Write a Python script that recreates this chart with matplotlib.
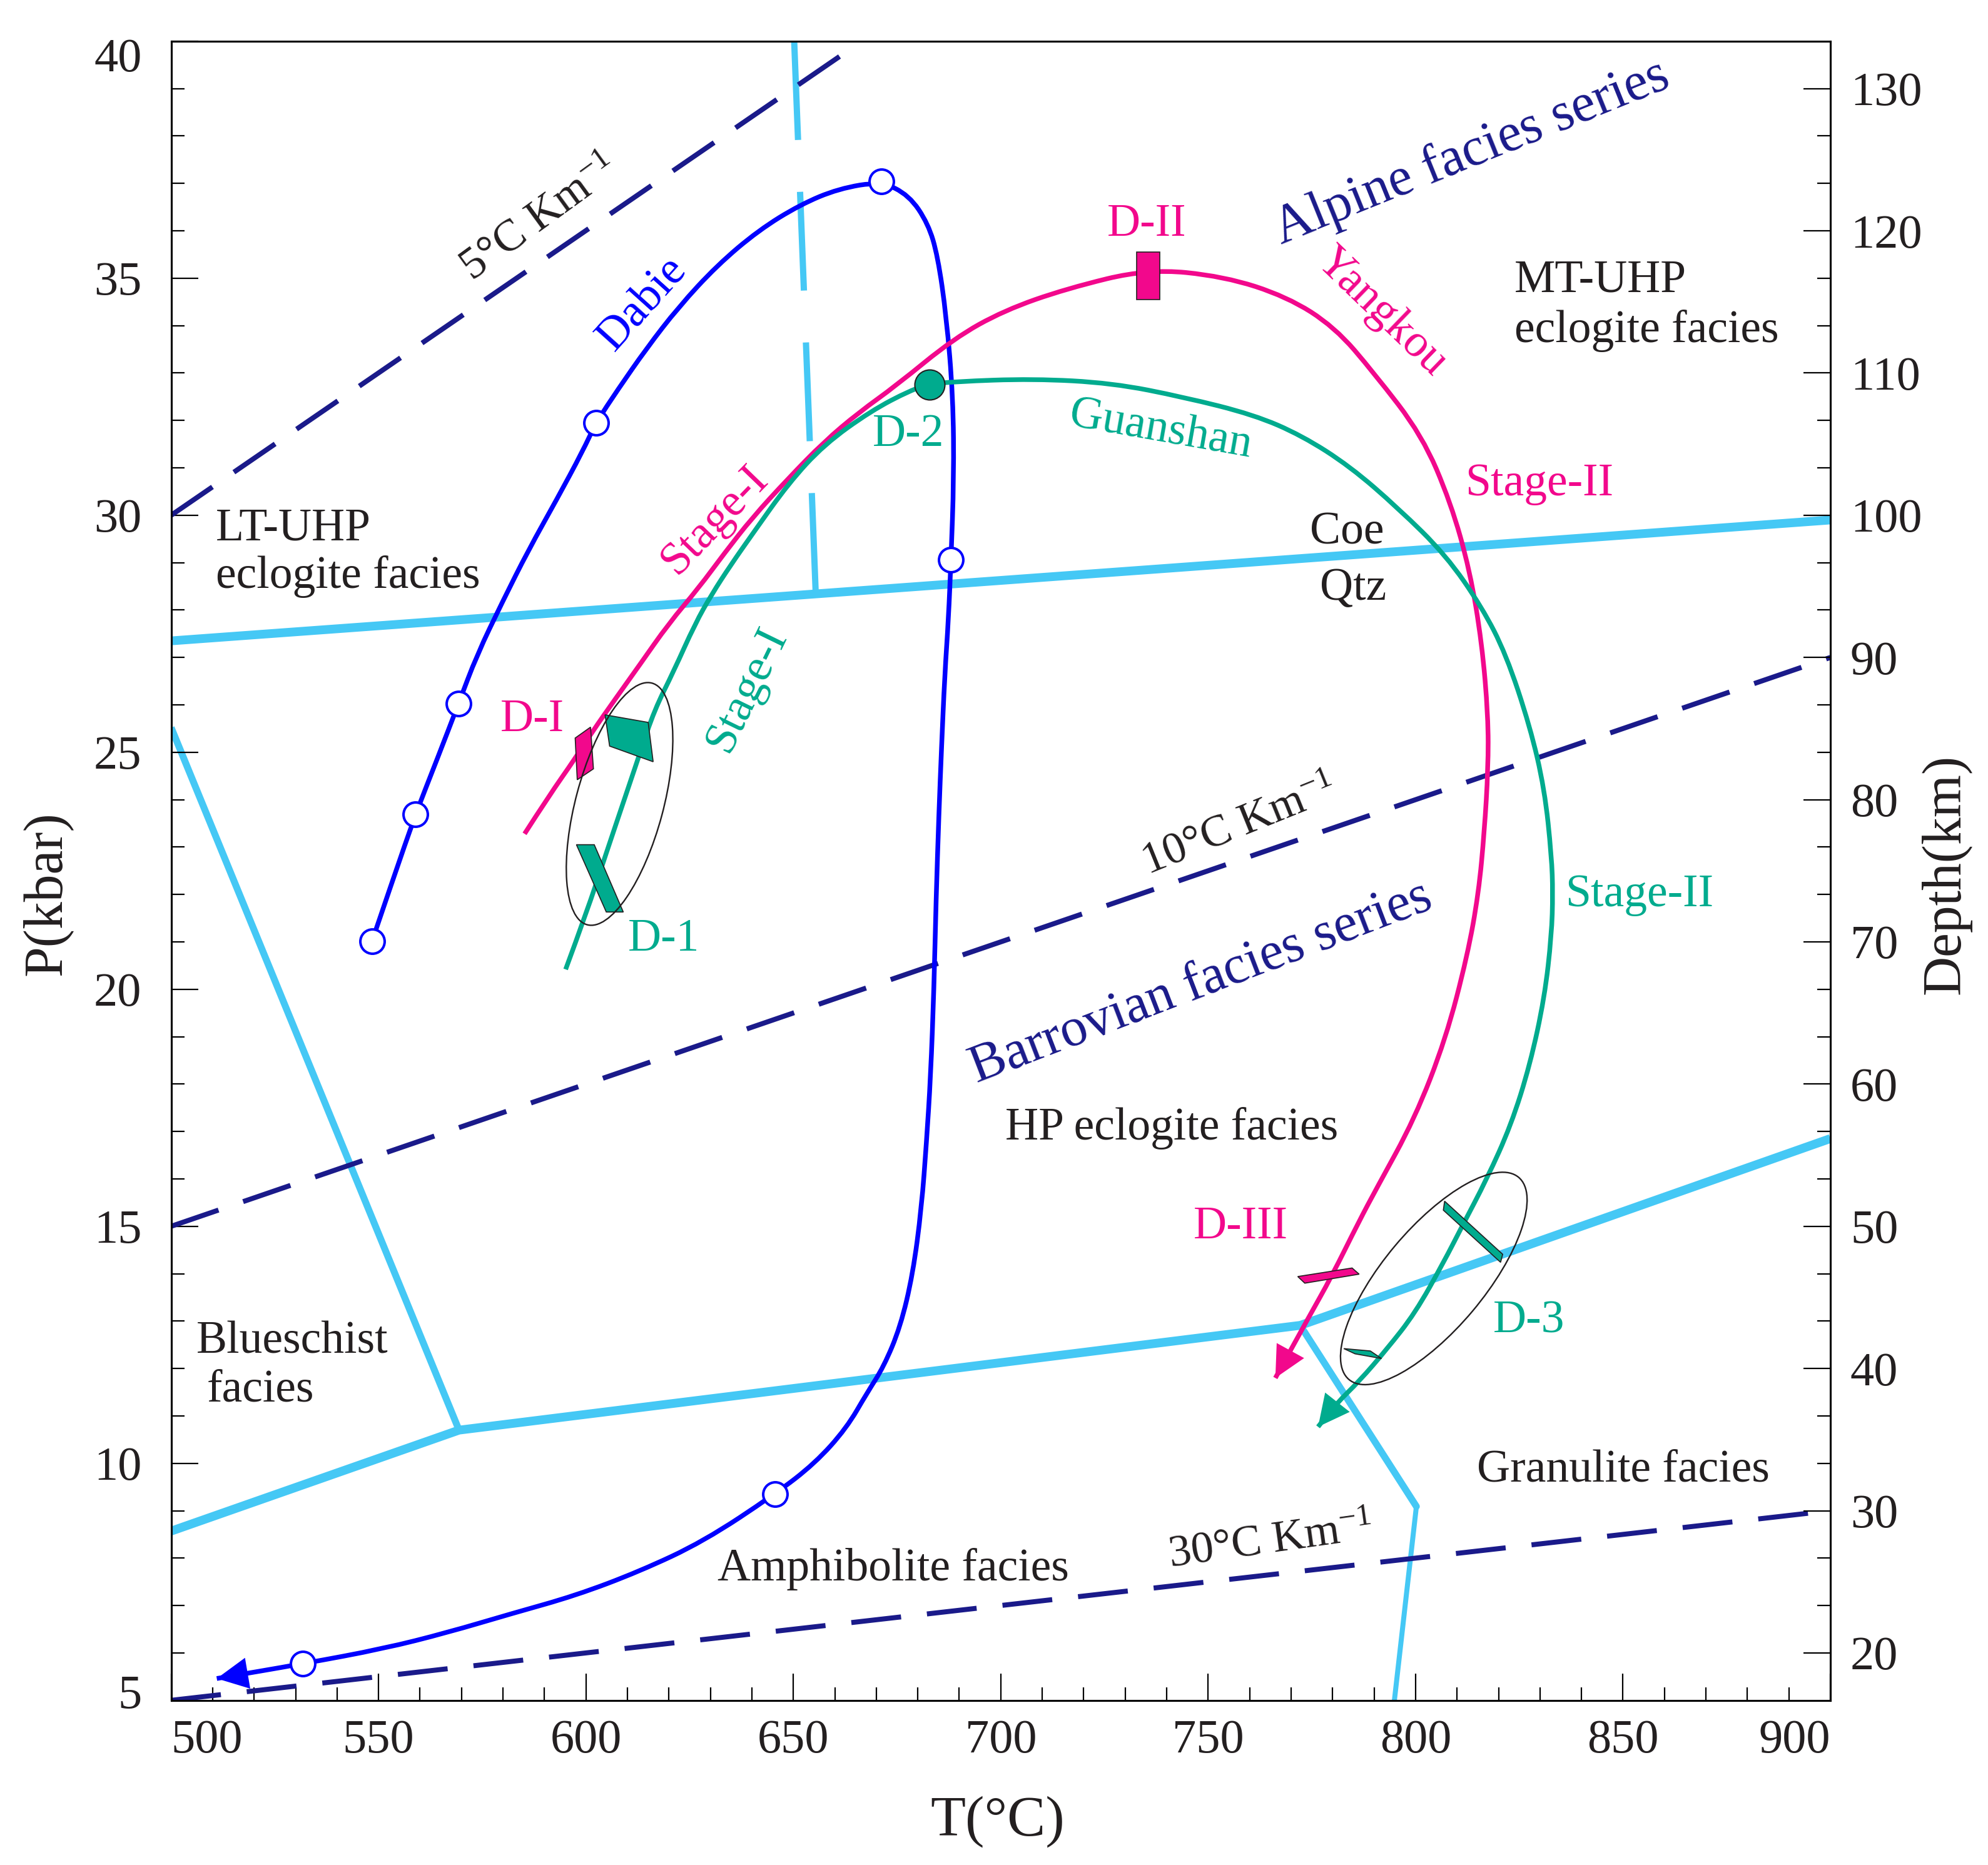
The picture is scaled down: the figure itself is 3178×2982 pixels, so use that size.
import matplotlib
matplotlib.use("Agg")
import matplotlib.pyplot as plt
from matplotlib.patches import Polygon, Rectangle, Ellipse, PathPatch
from matplotlib.path import Path
from matplotlib import transforms
from matplotlib.ticker import MultipleLocator, FixedLocator

plt.rcParams['font.family'] = ['Liberation Serif', 'DejaVu Serif']
plt.rcParams['mathtext.fontset'] = 'custom'
plt.rcParams['mathtext.rm'] = 'Liberation Serif'
plt.rcParams['mathtext.it'] = 'Liberation Serif:italic'

CYAN = '#45c8f5'
NAVY = '#1a1a8a'
BLUE = '#0000ff'
PINK = '#f2088c'
TEAL = '#00ab8e'
INK = '#231f20'
PX = 72 / 100  # one pixel in points (dpi 100)

# ---- axis ticks ----
t_ticks = [500, 550, 600, 650, 700, 750, 800, 850, 900]
p_ticks = [5, 10, 15, 20, 25, 30, 35, 40]
depth_ticks = [20, 30, 40, 50, 60, 70, 80, 90, 100, 110, 120, 130]

# ---- facies boundaries (T degC, P kbar) ----
coe_T = [500, 900]
coe_P = [27.35, 29.9]
dash_T = [650.2, 655.4]
dash_P = [40.0, 28.33]
blues_T = [500, 569.4]
blues_P = [25.52, 10.70]
lower_T = [500, 569.4, 772.2, 900]
lower_P = [8.57, 10.70, 12.91, 16.85]
gran1_T = [772.2, 800.2]
gran1_P = [12.91, 9.09]
gran2_T = [800.2, 794.9]
gran2_P = [9.09, 5.0]

# ---- geotherms ----
g5_T = [500, 664]
g5_P = [30, 39.85]
g10_T = [500, 900]
g10_P = [15, 27]
g30_T = [500, 900]
g30_P = [5, 9]

# ---- P-T paths ----
dabie_T = [548.4, 553.6, 558.9, 564.1, 569.3, 573.7, 579.9, 586.1, 593.0, 599.2,
           602.4, 607.6, 614.6, 622.3, 631.6, 641.6, 651.6, 660.9, 671.2, 677.9,
           682.5, 684.8, 686.9, 688.5, 688.7, 688.0, 687.4, 686.5, 685.7, 685.1,
           684.4, 683.9, 683.1, 682.1, 680.9, 678.8, 675.8, 671.8, 667.8, 662.8,
           655.2, 645.6, 628.3, 612.9, 597.5, 582.1, 566.6, 551.2, 531.7, 511.0]
dabie_P = [21.01, 22.35, 23.69, 24.85, 26.03, 27.05, 28.18, 29.26, 30.34, 31.35,
           31.95, 32.64, 33.52, 34.39, 35.27, 36.01, 36.55, 36.89, 37.04, 36.75,
           36.15, 35.47, 34.19, 32.50, 30.78, 29.06, 27.82, 26.64, 25.06, 23.74,
           21.88, 20.03, 18.17, 16.78, 15.39, 13.99, 12.88, 12.04, 11.49, 10.74,
           10.00, 9.35, 8.35, 7.72, 7.21, 6.83, 6.43, 6.09, 5.77, 5.46]
dabie_pts_T = [548.4, 558.9, 569.3, 602.4, 671.2, 688.0, 645.6, 531.7]
dabie_pts_P = [21.01, 23.69, 26.03, 31.95, 37.04, 29.06, 9.35, 5.77]

yk_T = [585.2, 591.0, 597.4, 601.5, 607.2, 613.0, 619.9, 627.2, 633.3, 640.1,
        648.7, 657.4, 665.8, 674.7, 688.7, 700.8, 715.8, 735.5, 753.8, 769.0,
        780.5, 790.0, 801.6, 808.5, 813.1, 816.0, 817.5, 817.5, 816.6, 815.2,
        812.5, 807.3, 799.8, 790.6, 786.4, 779.7, 774.3, 766.2]
yk_P = [23.28, 24.07, 24.87, 25.43, 26.14, 26.85, 27.71, 28.47, 29.19, 29.95,
        30.77, 31.55, 32.17, 32.73, 33.73, 34.32, 34.78, 35.20, 35.04, 34.61,
        33.97, 33.00, 31.68, 30.26, 28.83, 27.30, 25.76, 24.66, 23.34, 22.03,
        20.71, 18.96, 17.27, 15.80, 15.11, 13.93, 13.09, 11.80]

gs_T = [595.1, 600.2, 604.8, 609.5, 613.0, 616.5, 621.1, 626.3, 630.3, 634.9,
        640.1, 648.8, 657.4, 668.7, 678.3, 682.9, 688.7, 707.8, 726.8, 744.2,
        761.0, 772.6, 784.2, 795.8, 807.3, 816.0, 821.8, 827.6, 831.1, 832.8,
        833.1, 832.8, 831.1, 827.6, 823.0, 817.2, 811.1, 806.7, 799.9, 793.1,
        786.4, 781.0, 776.5]
gs_P = [20.42, 21.63, 22.85, 24.07, 24.98, 25.89, 26.70, 27.71, 28.33, 28.95,
        29.60, 30.67, 31.49, 32.20, 32.64, 32.76, 32.82, 32.88, 32.79, 32.49,
        32.12, 31.68, 31.03, 30.15, 29.16, 28.06, 27.07, 25.54, 24.22, 22.80,
        22.03, 21.15, 19.83, 18.41, 17.13, 16.00, 14.98, 14.23, 13.17, 12.41,
        11.73, 11.27, 10.77]
d2_T, d2_P = 682.9, 32.76

# ---- sample boxes ----
dI_T = [597.4, 601.1, 601.8, 597.9]
dI_P = [25.30, 25.53, 24.65, 24.42]
d1a_T = [604.6, 615.0, 616.2, 605.7]
d1a_P = [25.79, 25.63, 24.80, 25.13]
d1b_T = [597.7, 602.0, 609.0, 604.9]
d1b_P = [23.05, 23.05, 21.63, 21.63]
dIII_T = [771.6, 784.7, 786.4, 773.3]
dIII_P = [13.94, 14.12, 13.99, 13.80]
d3a_T = [807.0, 821.0, 820.5, 806.7]
d3a_P = [15.53, 14.41, 14.24, 15.34]
d3b_T = [782.7, 789.1, 791.8, 785.4]
d3b_P = [12.42, 12.37, 12.21, 12.31]
dII_T = [732.8, 738.3]
dII_P = [34.55, 35.55]
ell1_center = (608.1, 23.91)
ell3_center = (804.4, 13.90)

fig = plt.figure(figsize=(31.78, 29.82), dpi=100)
fig.patch.set_facecolor('white')
ax = fig.add_axes([0.0861, 0.0883, 0.8346, 0.8896])
ax.set_xlim(500, 900)
ax.set_ylim(5, 40)

# facies boundaries
ax.plot(coe_T, coe_P, color=CYAN, lw=14 * PX, solid_capstyle='butt', zorder=1)
ax.plot(dash_T, dash_P, color=CYAN, lw=10 * PX, dashes=(15.8, 8.3), zorder=1)
ax.plot(blues_T, blues_P, color=CYAN, lw=11 * PX, solid_capstyle='butt', zorder=1)
ax.plot(lower_T, lower_P, color=CYAN, lw=14 * PX, solid_capstyle='butt',
        solid_joinstyle='round', zorder=1)
ax.plot(gran1_T, gran1_P, color=CYAN, lw=11 * PX, solid_capstyle='round', zorder=1)
ax.plot(gran2_T, gran2_P, color=CYAN, lw=8 * PX, solid_capstyle='butt', zorder=1)

# geotherms
for gT, gP in [(g5_T, g5_P), (g10_T, g10_P), (g30_T, g30_P)]:
    ax.plot(gT, gP, color=NAVY, lw=8 * PX, dashes=(10, 5.2), dash_capstyle='butt', zorder=2)


def smooth(T, P):
    # quadratic bezier through the mid points of the read-off vertices
    verts = [(T[0], P[0])]
    codes = [Path.MOVETO]
    for i in range(1, len(T) - 1):
        verts += [(T[i], P[i]), ((T[i] + T[i + 1]) / 2, (P[i] + P[i + 1]) / 2)]
        codes += [Path.CURVE3, Path.CURVE3]
    verts.append((T[-1], P[-1]))
    codes.append(Path.LINETO)
    return Path(verts, codes)


def path_with_arrow(T, P, color):
    ax.add_patch(PathPatch(smooth(T, P), fill=False, ec=color, lw=7.5 * PX,
                           capstyle='butt', zorder=3))
    ax.annotate('', xy=(T[-1], P[-1]), xytext=(T[-2], P[-2]),
                arrowprops=dict(arrowstyle='-|>,head_length=0.4,head_width=0.2',
                                mutation_scale=90, fc=color, ec='none', lw=0,
                                shrinkA=0, shrinkB=0), zorder=3)


path_with_arrow(dabie_T, dabie_P, BLUE)
path_with_arrow(yk_T, yk_P, PINK)
path_with_arrow(gs_T, gs_P, TEAL)

ax.plot(dabie_pts_T, dabie_pts_P, 'o', ms=28, mfc='white', mec=BLUE, mew=2.9, zorder=5)
ax.plot([d2_T], [d2_P], 'o', ms=34.6, mfc=TEAL, mec=INK, mew=1.5, zorder=5)

for pT, pP, col in [(dI_T, dI_P, PINK), (d1a_T, d1a_P, TEAL), (d1b_T, d1b_P, TEAL),
                    (dIII_T, dIII_P, PINK), (d3a_T, d3a_P, TEAL), (d3b_T, d3b_P, TEAL)]:
    ax.add_patch(Polygon(list(zip(pT, pP)), closed=True, fc=col, ec=INK, lw=1.2, zorder=4))
ax.add_patch(Rectangle((dII_T[0], dII_P[0]), dII_T[1] - dII_T[0], dII_P[1] - dII_P[0],
                       fc=PINK, ec=INK, lw=1.2, zorder=4))

# sample ellipses (fixed shape in inches, placed at data centres)
tr1 = fig.dpi_scale_trans + transforms.ScaledTranslation(*ell1_center, ax.transData)
ax.add_patch(Ellipse((0, 0), 1.4, 4.0, angle=-15, transform=tr1, fill=False,
                     ec=INK, lw=1.7, zorder=4))
tr3 = fig.dpi_scale_trans + transforms.ScaledTranslation(*ell3_center, ax.transData)
ax.add_patch(Ellipse((0, 0), 4.22, 1.62, angle=50, transform=tr3, fill=False,
                     ec=INK, lw=1.7, zorder=4))


def lab(x, y, s, color=INK, size=53, rot=0, ha='center'):
    ax.text(x, y, s, color=color, fontsize=size, rotation=rot, ha=ha, va='center',
            rotation_mode='anchor', zorder=6)


lab(588.9, 36.25, '5°C Km$^{\\mathit{-1}}$', rot=36, size=52)
lab(757.5, 23.45, '10°C Km$^{\\mathit{-1}}$', rot=22, size=52)
lab(765.1, 8.35, '30°C Km$^{\\mathit{-1}}$', rot=8, size=52)
lab(613.7, 34.46, 'Dabie', BLUE, rot=48)
lab(813.6, 37.64, 'Alpine facies series', NAVY, size=62, rot=22)
lab(748.3, 20.13, 'Barrovian facies series', NAVY, size=62, rot=21)
lab(735.2, 36.13, 'D-II', PINK)
lab(791.8, 34.29, 'Yangkou', PINK, rot=-44)
lab(823.8, 34.95, 'MT-UHP', ha='left')
lab(823.8, 33.89, 'eclogite facies', ha='left')
lab(510.7, 29.71, 'LT-UHP', ha='left')
lab(510.7, 28.70, 'eclogite facies', ha='left')
lab(738.5, 31.79, 'Guanshan', TEAL, rot=-10)
lab(677.8, 31.69, 'D-2', TEAL)
lab(631.0, 29.89, 'Stage-I', PINK, rot=46)
lab(829.9, 30.65, 'Stage-II', PINK)
lab(783.5, 29.63, 'Coe')
lab(785.0, 28.45, 'Qtz')
lab(587.0, 25.68, 'D-I', PINK)
lab(638.8, 26.32, 'Stage-I', TEAL, rot=64)
lab(618.8, 21.05, 'D-1', TEAL)
lab(854.0, 21.98, 'Stage-II', TEAL)
lab(741.2, 17.07, 'HP eclogite facies')
lab(757.8, 14.98, 'D-III', PINK)
lab(827.3, 13.00, 'D-3', TEAL)
lab(506.1, 12.56, 'Blueschist', ha='left')
lab(508.6, 11.54, 'facies', ha='left')
lab(850.0, 9.85, 'Granulite facies')
lab(674.1, 7.76, 'Amphibolite facies')

# axes styling
for sp in ax.spines.values():
    sp.set_linewidth(2.2)
    sp.set_color('black')
ax.set_xticks(t_ticks)
ax.set_xticklabels([str(t) for t in t_ticks])
ax.set_yticks(p_ticks)
ax.set_yticklabels([str(p) for p in p_ticks])
ax.xaxis.set_minor_locator(MultipleLocator(10))
ax.yaxis.set_minor_locator(MultipleLocator(1))
ax.tick_params(which='both', direction='in', top=False, right=False,
               width=1.6, color='black', labelcolor=INK, labelsize=55)
ax.tick_params(which='major', length=31)
ax.tick_params(which='minor', length=15)
ax.tick_params(axis='x', pad=22)
ax.tick_params(axis='y', pad=34)
xl = ax.get_xticklabels()
xl[0].set_ha('left')
xl[-1].set_ha('right')
yl = ax.get_yticklabels()
yl[0].set_transform(yl[0].get_transform() +
                    transforms.ScaledTranslation(0, 0.14, fig.dpi_scale_trans))
yl[-1].set_transform(yl[-1].get_transform() +
                     transforms.ScaledTranslation(0, -0.22, fig.dpi_scale_trans))

ax2 = ax.twinx()
ax2.set_ylim(5 * 10 / 3, 40 * 10 / 3)
ax2.yaxis.set_major_locator(FixedLocator(depth_ticks))
ax2.set_yticklabels([str(d) for d in depth_ticks])
ax2.yaxis.set_minor_locator(FixedLocator([k * 10 / 3 for k in range(6, 40) if k % 3]))
ax2.tick_params(which='both', direction='in', width=1.6, color='black',
                labelcolor=INK, labelsize=55, pad=23)
ax2.tick_params(which='major', length=31)
ax2.tick_params(which='minor', length=15)
for sp in ax2.spines.values():
    sp.set_linewidth(2.2)

fig.text(75 / 3178, 1 - 1429 / 2982, 'P(kbar)', rotation=90, ha='center', va='center',
         fontsize=63, color=INK)
fig.text(3111 / 3178, 1 - 1398 / 2982, 'Depth(km)', rotation=90, ha='center', va='center',
         fontsize=63, color=INK)
fig.text(1595 / 3178, 1 - 2913 / 2982, 'T(°C)', ha='center', va='center',
         fontsize=66, color=INK)

fig.savefig('out.png', dpi=100, facecolor='white')
